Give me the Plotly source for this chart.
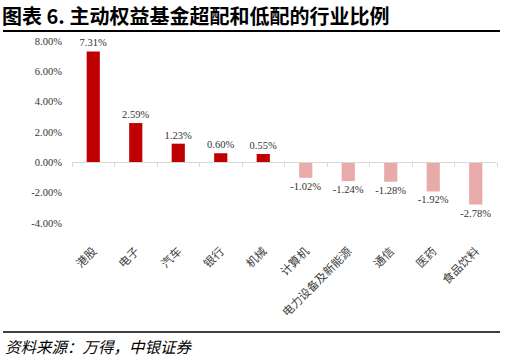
import plotly.graph_objects as go

categories = ["港股", "电子", "汽车", "银行", "机械", "计算机", "电力设备及新能源", "通信", "医药", "食品饮料"]
values = [7.31, 2.59, 1.23, 0.60, 0.55, -1.02, -1.24, -1.28, -1.92, -2.78]
ytick_vals = [-4, -2, 0, 2, 4, 6, 8]
ytick_text = ["-4.00%", "-2.00%", "0.00%", "2.00%", "4.00%", "6.00%", "8.00%"]

pos_color = "#C00000"
neg_color = "#E9AAAA"
colors = [pos_color if v >= 0 else neg_color for v in values]

serif = "Liberation Serif, Times New Roman, serif"
cjk = "Noto Sans CJK SC, sans-serif"

fig = go.Figure()
fig.add_trace(go.Bar(
    x=categories, y=values, marker_color=colors, marker_line_width=0,
    text=[f"{v:.2f}%" for v in values], textposition="outside",
    constraintext="none",
    textfont=dict(family=serif, size=10.5, color="#333333"),
    cliponaxis=False, hoverinfo="skip", showlegend=False,
))
# invisible trace to build the zero-position axis with boundary ticks
fig.add_trace(go.Bar(x=categories, y=[0] * len(categories), xaxis="x2",
                     showlegend=False, hoverinfo="skip", marker_opacity=0))

fig.update_layout(
    width=505, height=360,
    margin=dict(l=72, r=8, t=41, b=137, autoexpand=False),
    paper_bgcolor="white", plot_bgcolor="white",
    bargap=0.69,
    xaxis=dict(type="category", categoryarray=categories, tickangle=-45,
               showline=False, ticks="outside", ticklen=16,
               tickcolor="rgba(0,0,0,0)", showgrid=False, automargin=False,
               tickfont=dict(family=cjk, size=11.5, color="#404040")),
    xaxis2=dict(type="category", categoryarray=categories, overlaying="x",
                matches="x", anchor="free", position=1 / 3,
                showticklabels=False, showline=True, linecolor="#D9D9D9",
                linewidth=1, ticks="outside", tickson="boundaries",
                ticklen=4, tickcolor="#D9D9D9", showgrid=False, automargin=False),
    yaxis=dict(range=[-4, 8], tickvals=ytick_vals, ticktext=ytick_text,
               showgrid=False, zeroline=False, showline=False,
               ticks="outside", ticklen=7, tickcolor="rgba(0,0,0,0)",
               automargin=False,
               tickfont=dict(family=serif, size=10.5, color="#333333")),
    font=dict(family=cjk),
)

fig.add_annotation(text="<b>图表 6. 主动权益基金超配和低配的行业比例</b>",
                   xref="paper", yref="paper", x=-72 / 425, y=1 + 26 / 182,
                   xanchor="left", yanchor="middle", showarrow=False,
                   font=dict(family=cjk, size=20, color="#000000"))
fig.add_annotation(text="<i>资料来源：万得，中银证券</i>",
                   xref="paper", yref="paper", x=-69 / 425, y=-(346 - 223) / 182,
                   xanchor="left", yanchor="middle", showarrow=False,
                   font=dict(family=cjk, size=15.5, color="#000000"))
fig.add_shape(type="line", xref="paper", yref="paper",
              x0=-69 / 425, x1=(500 - 72) / 425, y0=1 + 10 / 182, y1=1 + 10 / 182,
              line=dict(color="#000000", width=1.8))
fig.add_shape(type="line", xref="paper", yref="paper",
              x0=-69 / 425, x1=(500 - 72) / 425, y0=-(332 - 223) / 182, y1=-(332 - 223) / 182,
              line=dict(color="#000000", width=1.5))

fig.write_html("out.html", config={"displayModeBar": False},
               post_script="document.body.style.margin='0';")
